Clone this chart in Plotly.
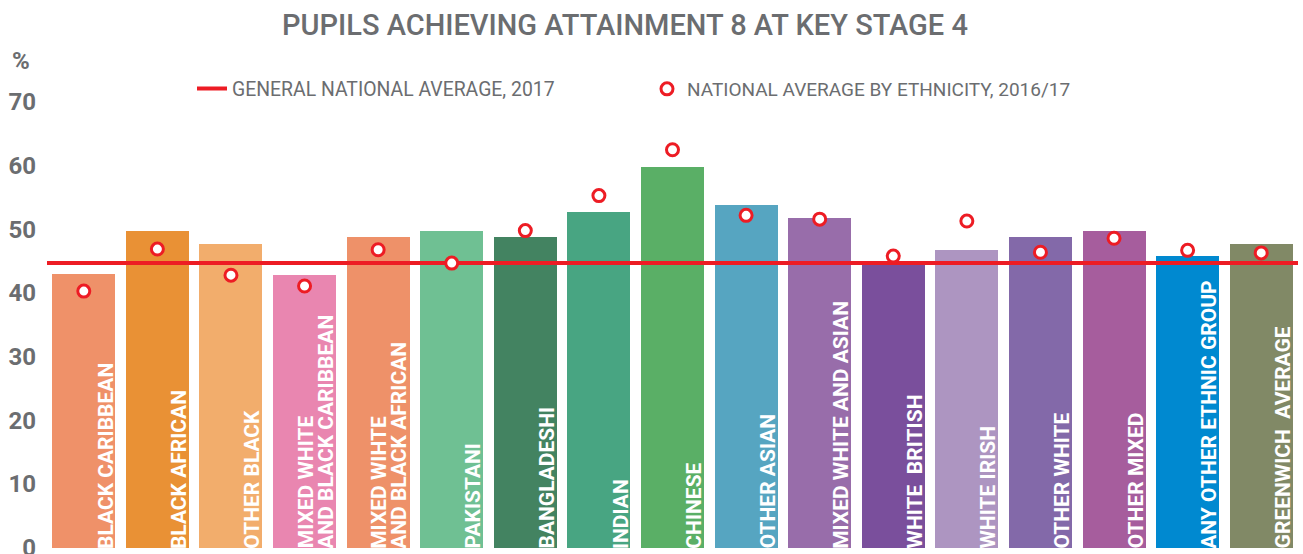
import numpy as np
import plotly.graph_objects as go

categories = [
    "BLACK CARIBBEAN", "BLACK AFRICAN", "OTHER BLACK",
    "MIXED WHITE\nAND BLACK CARIBBEAN", "MIXED WIHTE\nAND BLACK AFRICAN",
    "PAKISTANI", "BANGLADESHI", "INDIAN", "CHINESE", "OTHER ASIAN",
    "MIXED WHITE AND ASIAN", "WHITE  BRITISH", "WHITE IRISH", "OTHER WHITE",
    "OTHER MIXED", "ANY OTHER ETHNIC GROUP", "GREENWICH  AVERAGE",
]
greenwich_values = [43.0, 49.8, 47.7, 42.9, 48.8, 49.8, 48.8, 52.7, 59.8, 53.8,
                    51.8, 45.0, 46.8, 48.8, 49.8, 45.8, 47.7]
national_by_ethnicity = [40.3, 46.9, 42.8, 41.1, 46.8, 44.7, 49.8, 55.3, 62.5, 52.2,
                         51.6, 45.8, 51.3, 46.4, 48.6, 46.7, 46.3]
general_national_average = 44.7
bar_colors = ["#ef9169", "#e99135", "#f2ad6c", "#e986b0", "#ee9169", "#6fc093",
              "#438361", "#48a582", "#5aaf66", "#56a5c1", "#986daa", "#7a4f9c",
              "#ad95c1", "#8369a9", "#a65d9d", "#0089d0", "#818966"]
y_ticks = [0, 10, 20, 30, 40, 50, 60, 70]

title_text = "PUPILS ACHIEVING ATTAINMENT 8 AT KEY STAGE 4"
line_name = "GENERAL NATIONAL AVERAGE, 2017"
marker_name = "NATIONAL AVERAGE BY ETHNICITY, 2016/17"

FONT = "Roboto, sans-serif"
GRAY = "#6b6d70"
RED = "#ed1c24"

W, H = 1303, 554
ML, MR, MT, MB = 47, 5, 102, 6
n = len(categories)
idx = np.arange(n)
bar_w = 0.856
plot_w = W - ML - MR
plot_h = H - MT - MB

fig = go.Figure()
fig.add_trace(go.Bar(
    x=idx, y=greenwich_values, width=bar_w,
    marker=dict(color=bar_colors, line=dict(width=0)),
    showlegend=False, hovertext=[c.replace("\n", " ") for c in categories],
))
fig.add_trace(go.Scatter(
    x=[-0.5, n - 0.5], y=[general_national_average] * 2, mode="lines",
    line=dict(color=RED, width=4), name=line_name, legend="legend",
))
fig.add_trace(go.Scatter(
    x=idx, y=national_by_ethnicity, mode="markers",
    marker=dict(symbol="circle", size=12, color="white", line=dict(color=RED, width=3)),
    name=marker_name, legend="legend2",
))

px_per_unit = plot_w / n
half_bar_px = bar_w * px_per_unit / 2

annotations = []
for i, lab in enumerate(categories):
    lines = lab.split("\n")
    for j, line in enumerate(reversed(lines)):
        annotations.append(dict(
            x=i, y=0, xref="x", yref="y", text=line, showarrow=False,
            textangle=-90, xanchor="right", yanchor="bottom",
            xshift=half_bar_px + 4 - j * 20, yshift=-3,
            font=dict(family=FONT, size=21, color="white", weight="bold"),
        ))
annotations.append(dict(
    x=(21 - ML) / plot_w, y=(H - MB - 61) / plot_h, xref="paper", yref="paper",
    text="%", showarrow=False, xanchor="center", yanchor="middle",
    font=dict(family=FONT, size=24, color=GRAY, weight="bold"),
))

leg_y = (H - MB - 89) / plot_h
fig.update_layout(
    width=W, height=H,
    margin=dict(l=ML, r=MR, t=MT, b=MB, autoexpand=False),
    paper_bgcolor="white", plot_bgcolor="white",
    title=dict(text=title_text, x=625 / W, xref="container", xanchor="center",
               y=1 - 25 / H, yref="container", yanchor="middle",
               font=dict(family=FONT, size=29, color=GRAY, weight=500)),
    xaxis=dict(range=[-0.5, n - 0.5], showticklabels=False, showgrid=False,
               zeroline=False, showline=False, ticks="", automargin=False),
    yaxis=dict(range=[-0.05, 70], tickvals=y_ticks, showgrid=False, zeroline=False,
               showline=False, ticks="", ticklabelstandoff=10,
               ticklabeloverflow="allow", automargin=False,
               tickfont=dict(family=FONT, size=24, color=GRAY, weight="bold")),
    legend=dict(orientation="h", x=(192 - ML) / plot_w, xanchor="left",
                y=leg_y, yanchor="middle",
                font=dict(family=FONT, size=19.4, color=GRAY), bgcolor="rgba(0,0,0,0)"),
    legend2=dict(orientation="h", x=(647 - ML) / plot_w, xanchor="left",
                 y=leg_y, yanchor="middle",
                 font=dict(family=FONT, size=19, color=GRAY), bgcolor="rgba(0,0,0,0)"),
    annotations=annotations,
    bargap=0,
)

fig.write_html("out.html", config={"displayModeBar": False},
               post_script="document.body.style.margin='0';")
